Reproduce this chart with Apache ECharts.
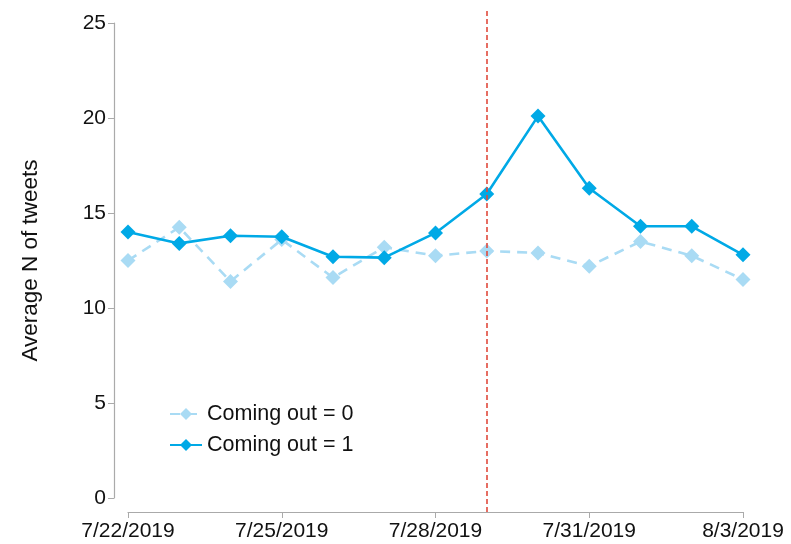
<!DOCTYPE html>
<html><head><meta charset="utf-8">
<script src="https://cdn.jsdelivr.net/npm/echarts@6/dist/echarts.min.js"></script>
<style>html,body{margin:0;padding:0;background:#fff}#c{width:791px;height:544px}</style>
</head><body><div id="c"></div>
<script>
var dates = ['7/22/2019','7/23/2019','7/24/2019','7/25/2019','7/26/2019','7/27/2019','7/28/2019','7/29/2019','7/30/2019','7/31/2019','8/1/2019','8/2/2019','8/3/2019'];
var comingOut0 = [12.5, 14.25, 11.4, 13.6, 11.6, 13.2, 12.75, 13.0, 12.9, 12.2, 13.5, 12.75, 11.5];
var comingOut1 = [14.0, 13.4, 13.8, 13.75, 12.7, 12.65, 13.95, 16.0, 20.1, 16.3, 14.3, 14.3, 12.8];
var eventDate = '7/29/2019';
var yTicks = {min: 0, max: 25, interval: 5};

var font = 'Liberation Sans, Arial, sans-serif';
var chart = echarts.init(document.getElementById('c'));
chart.setOption({
  animation: false,
  backgroundColor: '#fff',
  grid: [
    {left: 128, right: 48, top: 23, bottom: 46},
    {left: 128, right: 48, top: 8, bottom: 32}
  ],
  legend: {
    left: 164, top: 398, orient: 'vertical', itemGap: 9, itemWidth: 32, itemHeight: 15,
    textStyle: {fontFamily: font, fontSize: 21.5, color: '#111'},
    data: ['Coming out = 0', 'Coming out = 1']
  },
  xAxis: [{
    type: 'category', data: dates, boundaryGap: false, gridIndex: 0, offset: 14,
    axisLine: {onZero: false, lineStyle: {color: '#aaa', width: 1.2}},
    axisTick: {interval: 2, length: 6, inside: false, lineStyle: {color: '#aaa'}},
    axisLabel: {interval: 2, fontFamily: font, fontSize: 21, color: '#111', margin: 9},
    splitLine: {show: false}
  }, {
    type: 'category', data: dates, boundaryGap: false, gridIndex: 1, show: false
  }],
  yAxis: [{
    type: 'value', gridIndex: 0, min: yTicks.min, max: yTicks.max, interval: yTicks.interval, offset: 14,
    name: 'Average N of tweets', nameLocation: 'middle', nameGap: 72, nameRotate: 90,
    nameTextStyle: {fontFamily: font, fontSize: 22.5, color: '#111'},
    axisLine: {show: true, lineStyle: {color: '#aaa', width: 1.2}},
    axisTick: {show: true, length: 6, lineStyle: {color: '#aaa'}},
    axisLabel: {fontFamily: font, fontSize: 21, color: '#111', margin: 8},
    splitLine: {show: false}
  }, {
    type: 'value', gridIndex: 1, min: 0, max: 1, show: false
  }],
  series: [{
    name: 'Coming out = 0', type: 'line', data: comingOut0,
    xAxisIndex: 0, yAxisIndex: 0,
    symbol: 'diamond', symbolSize: 15, showAllSymbol: true,
    lineStyle: {color: '#a9dbf4', width: 2.6, type: [10, 7]},
    itemStyle: {color: '#a9dbf4'}, z: 2
  }, {
    name: 'Coming out = 1', type: 'line', data: comingOut1,
    xAxisIndex: 0, yAxisIndex: 0,
    symbol: 'diamond', symbolSize: 15, showAllSymbol: true,
    lineStyle: {color: '#00a9e6', width: 2.6},
    itemStyle: {color: '#00a9e6'}, z: 3
  }, {
    name: 'event', type: 'line', data: [], xAxisIndex: 1, yAxisIndex: 1,
    silent: true, z: 1,
    markLine: {
      silent: true, symbol: 'none', label: {show: false},
      lineStyle: {color: '#e04a3c', type: [5, 3], width: 1.6},
      data: [{xAxis: eventDate}]
    }
  }]
});
</script></body></html>
